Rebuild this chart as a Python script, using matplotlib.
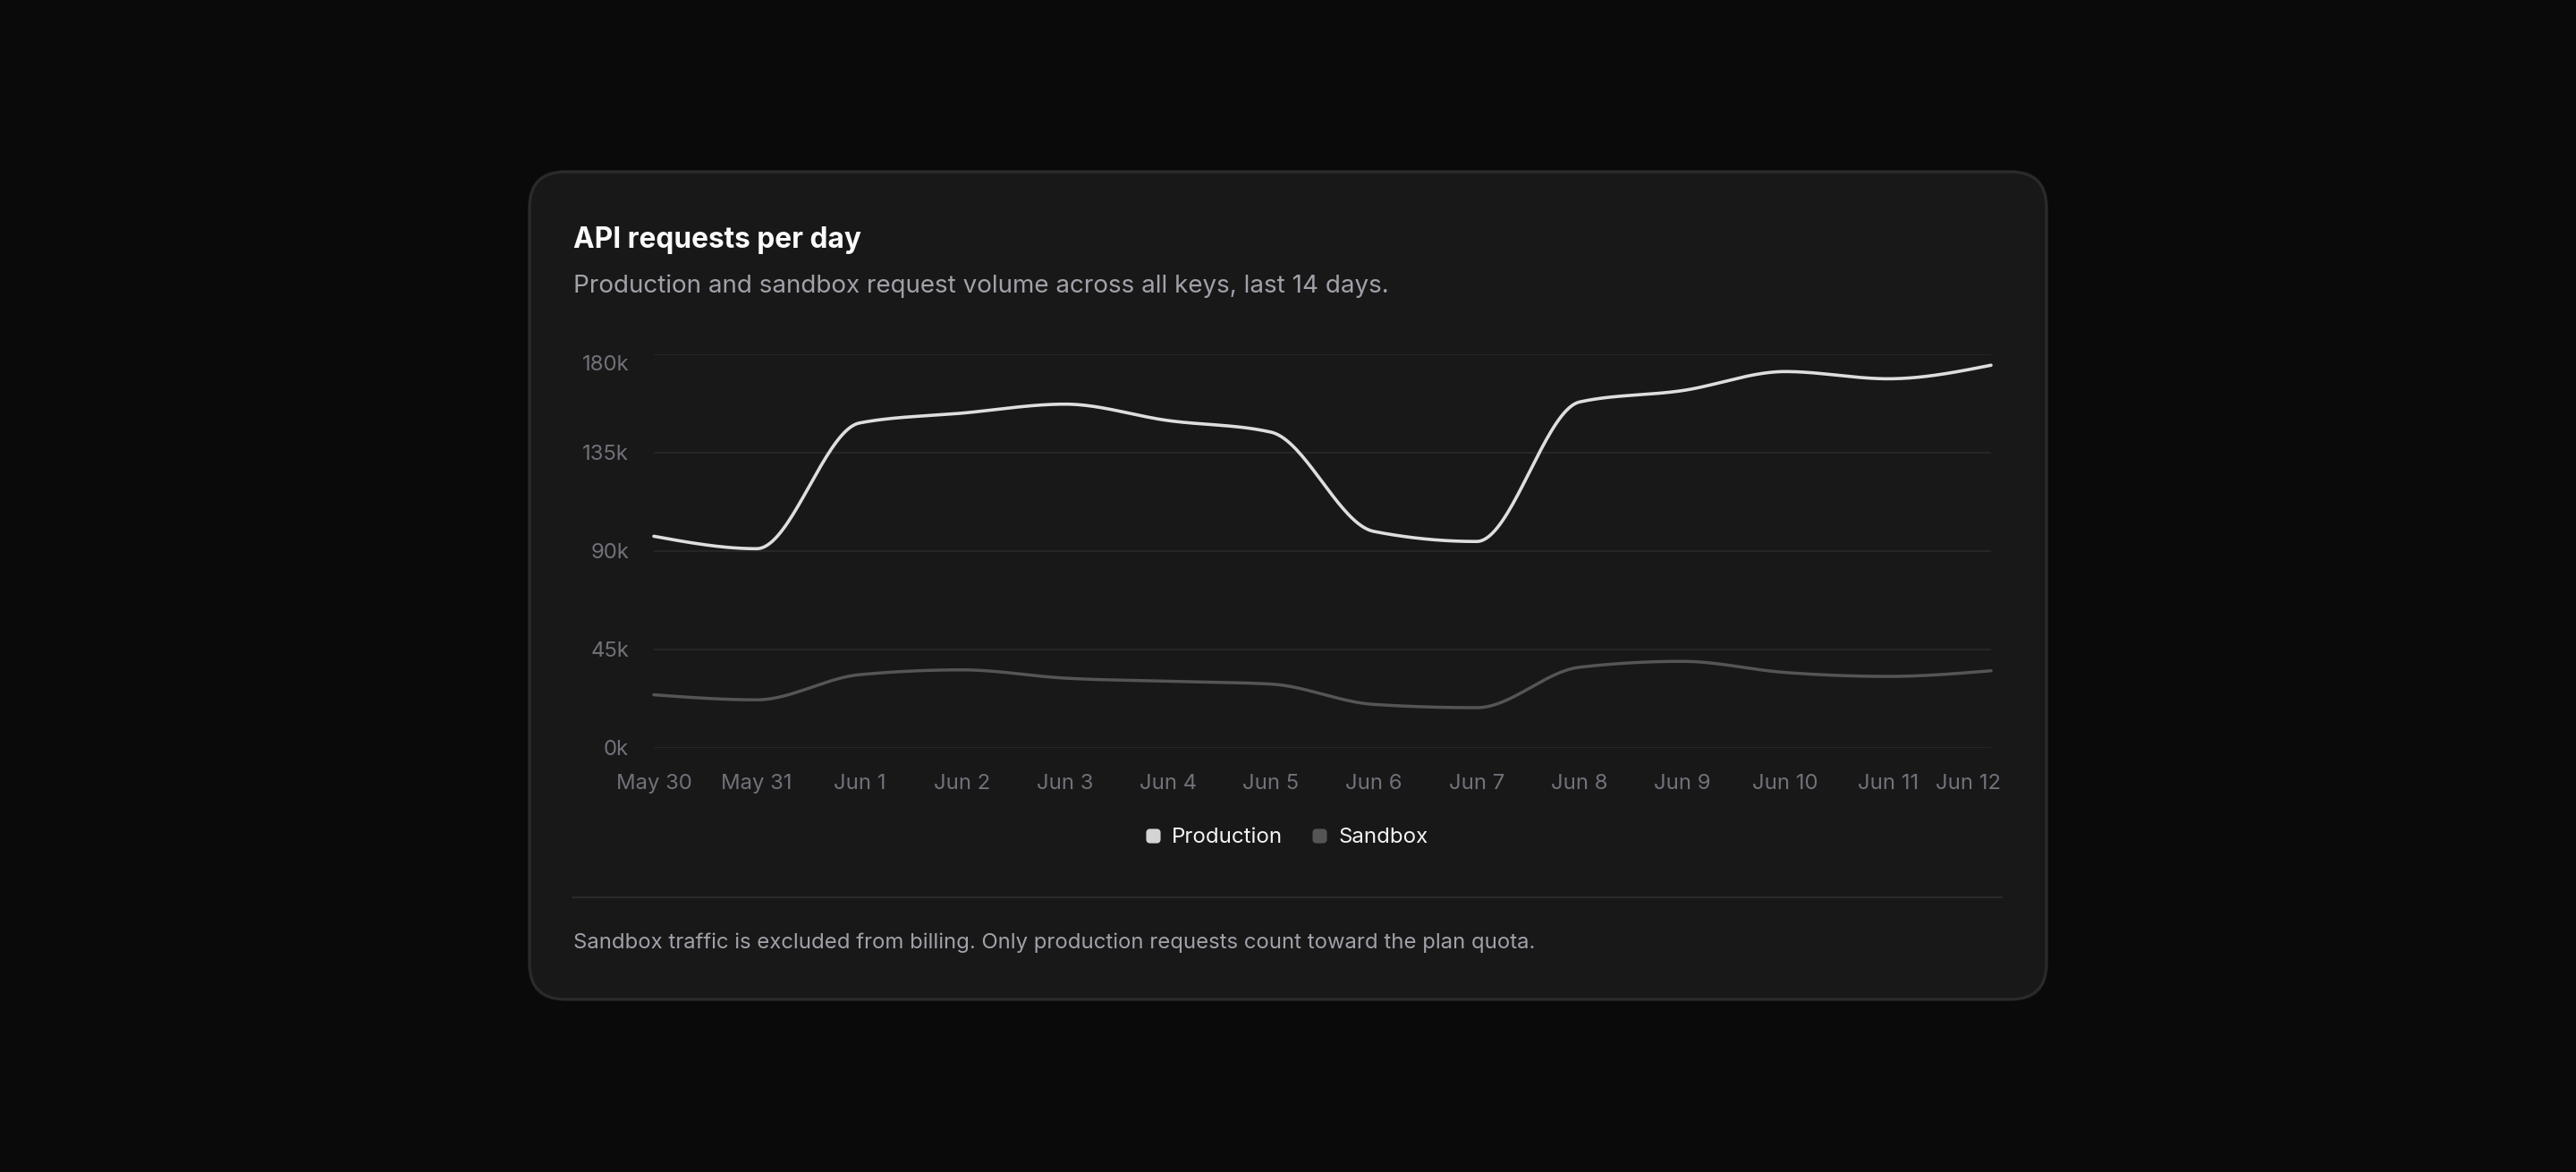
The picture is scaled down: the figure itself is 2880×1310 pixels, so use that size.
import numpy as np
import matplotlib
matplotlib.use('Agg')
from matplotlib import pyplot as plt
from matplotlib.patches import FancyBboxPatch
from matplotlib.lines import Line2D
from matplotlib.path import Path
from matplotlib.transforms import ScaledTranslation

plt.rcParams['font.family'] = ['Inter', 'DejaVu Sans']

days = ['May 30', 'May 31', 'Jun 1', 'Jun 2', 'Jun 3', 'Jun 4', 'Jun 5',
        'Jun 6', 'Jun 7', 'Jun 8', 'Jun 9', 'Jun 10', 'Jun 11', 'Jun 12']
production = [96800, 91100, 148600, 153100, 157200, 149700, 144400,
              99000, 94400, 158200, 163400, 172100, 168800, 175000]
sandbox = [24300, 22000, 33500, 35700, 31900, 30500, 29200,
           19900, 18400, 36900, 39600, 34500, 32700, 35300]
y_ticks = [0, 45000, 90000, 135000, 180000]
y_labels = ['0k', '45k', '90k', '135k', '180k']

PAGE_BG = '#0a0a0a'
CARD_BG = '#181818'
CARD_EDGE = '#2a2a2a'
GRID = '#262626'
TICK = '#71717a'
MUTED = '#a1a1aa'
PROD_COLOR = '#dedede'
SAND_COLOR = '#555555'


def monotoneCurve(xs, ys, steps=40):
    # same idea as d3.curveMonotoneX
    xs = np.asarray(xs, dtype=float)
    ys = np.asarray(ys, dtype=float)
    n = len(xs)
    h = np.diff(xs)
    s = np.diff(ys) / h
    t = np.zeros(n)
    for i in range(1, n - 1):
        h0, h1 = h[i - 1], h[i]
        s0, s1 = s[i - 1], s[i]
        p = (s0 * h1 + s1 * h0) / (h0 + h1)
        sg = (1 if s0 >= 0 else -1) + (1 if s1 >= 0 else -1)
        t[i] = sg * min(abs(s0), abs(s1), 0.5 * abs(p))
    t[0] = (3 * s[0] - t[1]) / 2
    t[-1] = (3 * s[-1] - t[-2]) / 2
    out_x, out_y = [], []
    for i in range(n - 1):
        u = np.linspace(0, 1, steps, endpoint=(i == n - 2))
        h00 = 2 * u ** 3 - 3 * u ** 2 + 1
        h10 = u ** 3 - 2 * u ** 2 + u
        h01 = -2 * u ** 3 + 3 * u ** 2
        h11 = u ** 3 - u ** 2
        out_x.extend(xs[i] + u * h[i])
        out_y.extend(h00 * ys[i] + h10 * h[i] * t[i] + h01 * ys[i + 1] + h11 * h[i] * t[i + 1])
    return np.array(out_x), np.array(out_y)


def roundedSquare(r=0.25):
    # closed outline of a unit square with rounded corners, used as a marker
    pts = []
    for cx, cy, a0 in [(1 - r, 1 - r, 0), (r, 1 - r, 90), (r, r, 180), (1 - r, r, 270)]:
        ang = np.radians(np.linspace(a0, a0 + 90, 8))
        pts.extend(zip(cx + r * np.cos(ang), cy + r * np.sin(ang)))
    pts.append(pts[0])
    pts = np.array(pts) - 0.5
    return Path(pts, closed=True)


fig = plt.figure(figsize=(14.4, 6.55), dpi=200, facecolor=PAGE_BG)

# background layer in pixel coordinates
bg = fig.add_axes([0, 0, 1, 1], zorder=0)
bg.set_xlim(0, 2880)
bg.set_ylim(1310, 0)
bg.axis('off')
card = FancyBboxPatch((592, 192), 2288 - 592, 1117 - 192,
                      boxstyle='round,pad=0,rounding_size=40',
                      facecolor=CARD_BG, edgecolor=CARD_EDGE, linewidth=1.2)
bg.add_patch(card)
bg.text(641, 277, 'API requests per day', color='#fafafa', fontsize=11.4,
        fontweight='bold', va='baseline', ha='left')
bg.text(641, 327, 'Production and sandbox request volume across all keys, last 14 days.',
        color=MUTED, fontsize=10, va='baseline', ha='left')
bg.plot([641, 2238], [1003, 1003], color=CARD_EDGE, linewidth=0.8)
bg.text(641, 1060, 'Sandbox traffic is excluded from billing. Only production requests count toward the plan quota.',
        color=MUTED, fontsize=8.6, va='baseline', ha='left')

# chart
ax = fig.add_axes([731 / 2880, (1310 - 836) / 1310, (2226 - 731) / 2880, 440 / 1310], zorder=1)
ax.set_facecolor('none')
x = np.arange(len(days))
px, py = monotoneCurve(x, production)
sx, sy = monotoneCurve(x, sandbox)
ax.plot(sx, sy, color=SAND_COLOR, linewidth=1.25, clip_on=False, solid_capstyle='round')
ax.plot(px, py, color=PROD_COLOR, linewidth=1.3, clip_on=False, solid_capstyle='round')
ax.set_xlim(0, len(days) - 1)
ax.set_ylim(0, 180000)
ax.set_yticks(y_ticks, y_labels)
ax.set_xticks(x, days)
ax.grid(axis='y', color=GRID, linewidth=0.75)
ax.set_axisbelow(True)
for sp in ax.spines.values():
    sp.set_visible(False)
ax.tick_params(axis='both', length=0, colors=TICK, labelsize=8.6)
ax.tick_params(axis='y', pad=10)
ax.tick_params(axis='x', pad=10.5)
last = ax.get_xticklabels()[-1]
last.set_horizontalalignment('right')
last.set_transform(last.get_transform() + ScaledTranslation(11 / 200, 0, fig.dpi_scale_trans))
top = ax.get_yticklabels()[-1]
top.set_transform(top.get_transform() + ScaledTranslation(0, -10 / 200, fig.dpi_scale_trans))

marker = roundedSquare()
handles = [
    Line2D([], [], linestyle='none', marker=marker, markersize=5.8,
           markerfacecolor='#d4d4d4', markeredgecolor='none'),
    Line2D([], [], linestyle='none', marker=marker, markersize=5.8,
           markerfacecolor=SAND_COLOR, markeredgecolor='none'),
]
leg = fig.legend(handles, ['Production', 'Sandbox'], loc='center',
                 bbox_to_anchor=(1439 / 2880, 1 - 936 / 1310), ncol=2,
                 frameon=False, fontsize=8.65, labelcolor='#f4f4f5',
                 handlelength=0.66, handletextpad=0.55, columnspacing=1.37,
                 borderpad=0, borderaxespad=0)

fig.savefig('out.png', dpi=200, facecolor=PAGE_BG)
